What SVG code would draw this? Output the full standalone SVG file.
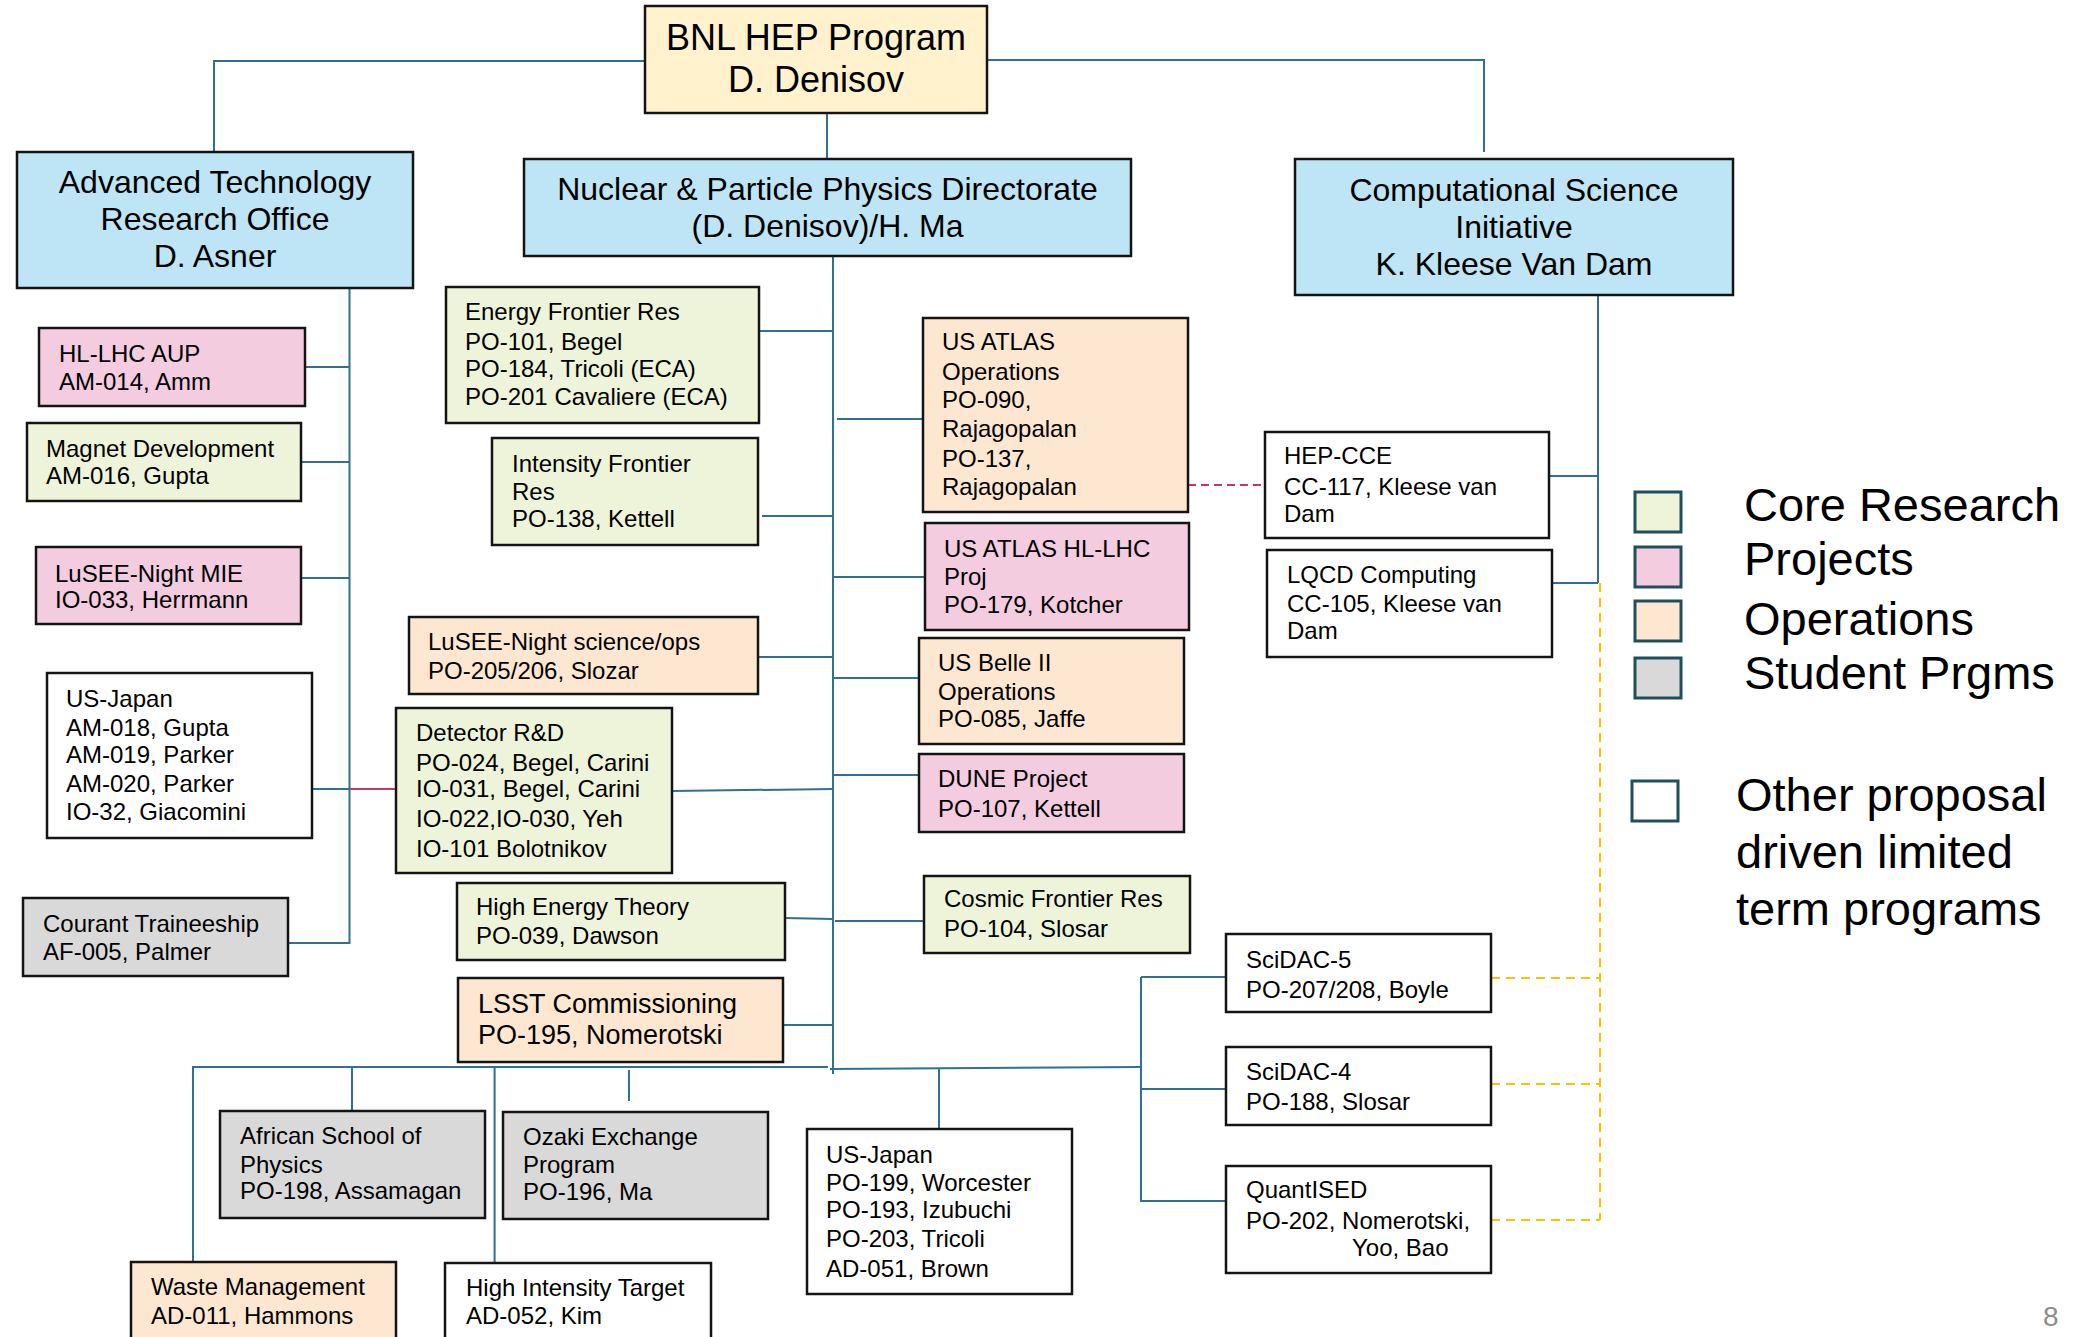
<svg xmlns="http://www.w3.org/2000/svg" width="2084" height="1337" viewBox="0 0 2084 1337">
<style>
.box{stroke:#141414;stroke-width:2.5}
.blue{fill:#BDE5F5}
.cream{fill:#FFF2CC}
.green{fill:#EEF4D9}
.pink{fill:#F4CCE0}
.peach{fill:#FDE7D0}
.gray{fill:#D9D9D9}
.white{fill:#FFFFFF}
text{font-family:"Liberation Sans",Arial,sans-serif;fill:#000}
.t{font-size:24px}
.h{font-size:32px;text-anchor:middle}
.lg{font-size:47px}
.c{stroke:#2F7190;stroke-width:2;fill:none}
.pd{stroke:#C0396B;stroke-width:2;fill:none;stroke-dasharray:8,5}
.pk{stroke:#C0396B;stroke-width:2;fill:none}
.yd{stroke:#FFC000;stroke-width:2;fill:none;stroke-dasharray:9,6}
.leg{stroke:#1F4E5F;stroke-width:3}
</style>
<rect width="2084" height="1337" fill="#FFFFFF"/>
<g id="connectors">
<path class="c" d="M214,152 V61 H645"/>
<path class="c" d="M987,60 H1484 V152"/>
<path class="c" d="M827,113 V159"/>
<path class="c" d="M349.5,288 V944"/>
<path class="c" d="M305,367 H349.5 M301,462 H349.5 M301,578 H349.5 M312,789 H349.5 M288,943 H349.5"/>
<path class="pk" d="M349.5,789 H396"/>
<path class="c" d="M833,256 V1074"/>
<path class="c" d="M759,331 H833 M762,516 H833 M758,657 H833 M672,791 L834,789 M785,918 L833,919 M783,1025 H833"/>
<path class="c" d="M837,419 H923 M833,577 H925 M833,678 H919 M833,775 H919 M835,921 H924"/>
<path class="c" d="M192,1067 H828 M830,1069 L1142,1067"/>
<path class="c" d="M193,1067 V1262 M352,1067 V1111 M494.6,1067 V1263 M629,1070 V1101 M939,1069 V1129"/>
<path class="c" d="M1141,977 V1201 M1141,977 H1226 M1142,1089 H1226 M1140,1201 H1226"/>
<path class="c" d="M1598,295 V583 M1549,476 H1598 M1552,583 H1598"/>
<path class="pd" d="M1188,485 H1265"/>
<path class="yd" d="M1600,583 V1220 M1491,978 H1600 M1491,1084 H1600 M1491,1220 H1600"/>
</g>
<g id="bnl"><rect class="box cream" x="645" y="6" width="342" height="107"/>
<text x="816" y="50" style="font-size:36px;text-anchor:middle">BNL HEP Program</text>
<text x="816" y="92" style="font-size:36px;text-anchor:middle">D. Denisov</text></g>
<g id="atro"><rect class="box blue" x="17" y="152" width="396" height="136"/>
<text class="h" x="215" y="193">Advanced Technology</text>
<text class="h" x="215" y="230">Research Office</text>
<text class="h" x="215" y="267">D. Asner</text></g>
<g id="nppd"><rect class="box blue" x="524" y="159" width="607" height="97"/>
<text class="h" x="827.5" y="200">Nuclear &amp; Particle Physics Directorate</text>
<text class="h" x="827.5" y="237">(D. Denisov)/H. Ma</text></g>
<g id="csi"><rect class="box blue" x="1295" y="159" width="438" height="136"/>
<text class="h" x="1514" y="201">Computational Science</text>
<text class="h" x="1514" y="238">Initiative</text>
<text class="h" x="1514" y="275">K. Kleese Van Dam</text></g>
<g id="hllhc"><rect class="box pink" x="39" y="328" width="266" height="78"/>
<text class="t" x="59" y="362">HL-LHC AUP</text><text class="t" x="59" y="390">AM-014, Amm</text></g>
<g id="magnet"><rect class="box green" x="27" y="423" width="274" height="78"/>
<text class="t" x="46" y="457">Magnet Development</text><text class="t" x="46" y="484">AM-016, Gupta</text></g>
<g id="lusee-mie"><rect class="box pink" x="36" y="547" width="265" height="77"/>
<text class="t" x="55" y="582">LuSEE-Night MIE</text><text class="t" x="55" y="608">IO-033, Herrmann</text></g>
<g id="usjapan-am"><rect class="box white" x="47" y="673" width="265" height="165"/>
<text class="t" x="66" y="707">US-Japan</text><text class="t" x="66" y="736">AM-018, Gupta</text><text class="t" x="66" y="763">AM-019, Parker</text><text class="t" x="66" y="792">AM-020, Parker</text><text class="t" x="66" y="820">IO-32, Giacomini</text></g>
<g id="courant"><rect class="box gray" x="23" y="898" width="265" height="78"/>
<text class="t" x="43" y="932">Courant Traineeship</text><text class="t" x="43" y="960">AF-005, Palmer</text></g>
<g id="energy"><rect class="box green" x="446" y="287" width="313" height="136"/>
<text class="t" x="465" y="320">Energy Frontier Res</text><text class="t" x="465" y="350">PO-101, Begel</text><text class="t" x="465" y="377">PO-184, Tricoli (ECA)</text><text class="t" x="465" y="405">PO-201 Cavaliere (ECA)</text></g>
<g id="intensity"><rect class="box green" x="492" y="438" width="266" height="107"/>
<text class="t" x="512" y="472">Intensity Frontier</text><text class="t" x="512" y="500">Res</text><text class="t" x="512" y="527">PO-138, Kettell</text></g>
<g id="lusee-sci"><rect class="box peach" x="409" y="617" width="349" height="77"/>
<text class="t" x="428" y="650">LuSEE-Night science/ops</text><text class="t" x="428" y="679">PO-205/206, Slozar</text></g>
<g id="detector"><rect class="box green" x="396" y="708" width="276" height="165"/>
<text class="t" x="416" y="741">Detector R&amp;D</text><text class="t" x="416" y="771">PO-024, Begel, Carini</text><text class="t" x="416" y="797">IO-031, Begel, Carini</text><text class="t" x="416" y="827">IO-022,IO-030, Yeh</text><text class="t" x="416" y="857">IO-101 Bolotnikov</text></g>
<g id="het"><rect class="box green" x="457" y="883" width="328" height="77"/>
<text class="t" x="476" y="915">High Energy Theory</text><text class="t" x="476" y="944">PO-039, Dawson</text></g>
<g id="lsst"><rect class="box peach" x="458" y="978" width="325" height="84"/>
<text x="478" y="1013" style="font-size:27px">LSST Commissioning</text><text x="478" y="1044" style="font-size:27px">PO-195, Nomerotski</text></g>
<g id="atlas-ops"><rect class="box peach" x="923" y="318" width="265" height="194"/>
<text class="t" x="942" y="350">US ATLAS</text><text class="t" x="942" y="380">Operations</text><text class="t" x="942" y="408">PO-090,</text><text class="t" x="942" y="437">Rajagopalan</text><text class="t" x="942" y="467">PO-137,</text><text class="t" x="942" y="495">Rajagopalan</text></g>
<g id="atlas-hllhc"><rect class="box pink" x="925" y="523" width="264" height="107"/>
<text class="t" x="944" y="557">US ATLAS HL-LHC</text><text class="t" x="944" y="585">Proj</text><text class="t" x="944" y="613">PO-179, Kotcher</text></g>
<g id="belle"><rect class="box peach" x="919" y="638" width="265" height="106"/>
<text class="t" x="938" y="671">US Belle II</text><text class="t" x="938" y="700">Operations</text><text class="t" x="938" y="727">PO-085, Jaffe</text></g>
<g id="dune"><rect class="box pink" x="919" y="754" width="265" height="78"/>
<text class="t" x="938" y="787">DUNE Project</text><text class="t" x="938" y="817">PO-107, Kettell</text></g>
<g id="cosmic"><rect class="box green" x="924" y="876" width="266" height="77"/>
<text class="t" x="944" y="907">Cosmic Frontier Res</text><text class="t" x="944" y="937">PO-104, Slosar</text></g>
<g id="hepcce"><rect class="box white" x="1265" y="432" width="284" height="106"/>
<text class="t" x="1284" y="464">HEP-CCE</text><text class="t" x="1284" y="495">CC-117, Kleese van</text><text class="t" x="1284" y="522">Dam</text></g>
<g id="lqcd"><rect class="box white" x="1267" y="550" width="285" height="107"/>
<text class="t" x="1287" y="583">LQCD Computing</text><text class="t" x="1287" y="612">CC-105, Kleese van</text><text class="t" x="1287" y="639">Dam</text></g>
<g id="scidac5"><rect class="box white" x="1226" y="934" width="265" height="78"/>
<text class="t" x="1246" y="968">SciDAC-5</text><text class="t" x="1246" y="998">PO-207/208, Boyle</text></g>
<g id="scidac4"><rect class="box white" x="1226" y="1047" width="265" height="78"/>
<text class="t" x="1246" y="1080">SciDAC-4</text><text class="t" x="1246" y="1110">PO-188, Slosar</text></g>
<g id="quantised"><rect class="box white" x="1226" y="1166" width="265" height="107"/>
<text class="t" x="1246" y="1198">QuantISED</text><text class="t" x="1246" y="1229">PO-202, Nomerotski,</text><text class="t" x="1352" y="1256">Yoo, Bao</text></g>
<g id="african"><rect class="box gray" x="220" y="1111" width="265" height="107"/>
<text class="t" x="240" y="1144">African School of</text><text class="t" x="240" y="1173">Physics</text><text class="t" x="240" y="1199">PO-198, Assamagan</text></g>
<g id="ozaki"><rect class="box gray" x="503" y="1112" width="265" height="107"/>
<text class="t" x="523" y="1145">Ozaki Exchange</text><text class="t" x="523" y="1173">Program</text><text class="t" x="523" y="1200">PO-196, Ma</text></g>
<g id="usjapan-po"><rect class="box white" x="807" y="1129" width="265" height="165"/>
<text class="t" x="826" y="1163">US-Japan</text><text class="t" x="826" y="1191">PO-199, Worcester</text><text class="t" x="826" y="1218">PO-193, Izubuchi</text><text class="t" x="826" y="1247">PO-203, Tricoli</text><text class="t" x="826" y="1277">AD-051, Brown</text></g>
<g id="waste"><rect class="box peach" x="131" y="1262" width="265" height="100"/>
<text class="t" x="151" y="1295">Waste Management</text><text class="t" x="151" y="1324">AD-011, Hammons</text></g>
<g id="hit"><rect class="box white" x="445" y="1263" width="266" height="100"/>
<text class="t" x="466" y="1296">High Intensity Target</text><text class="t" x="466" y="1324">AD-052, Kim</text></g>
<g id="legend">
<rect class="leg green" x="1635" y="492" width="46" height="40"/>
<rect class="leg pink" x="1635" y="547" width="46" height="40"/>
<rect class="leg peach" x="1635" y="601" width="46" height="40"/>
<rect class="leg gray" x="1635" y="658" width="46" height="40"/>
<rect class="leg white" x="1632" y="781" width="46" height="40"/>
<text class="lg" x="1744" y="521">Core Research</text>
<text class="lg" x="1744" y="575">Projects</text>
<text class="lg" x="1744" y="635">Operations</text>
<text class="lg" x="1744" y="689">Student Prgms</text>
<text class="lg" x="1736" y="811">Other proposal</text>
<text class="lg" x="1736" y="868">driven limited</text>
<text class="lg" x="1736" y="925">term programs</text>
</g>
<text x="2043" y="1326" style="font-size:28px;fill:#8C8C8C">8</text>
</svg>
